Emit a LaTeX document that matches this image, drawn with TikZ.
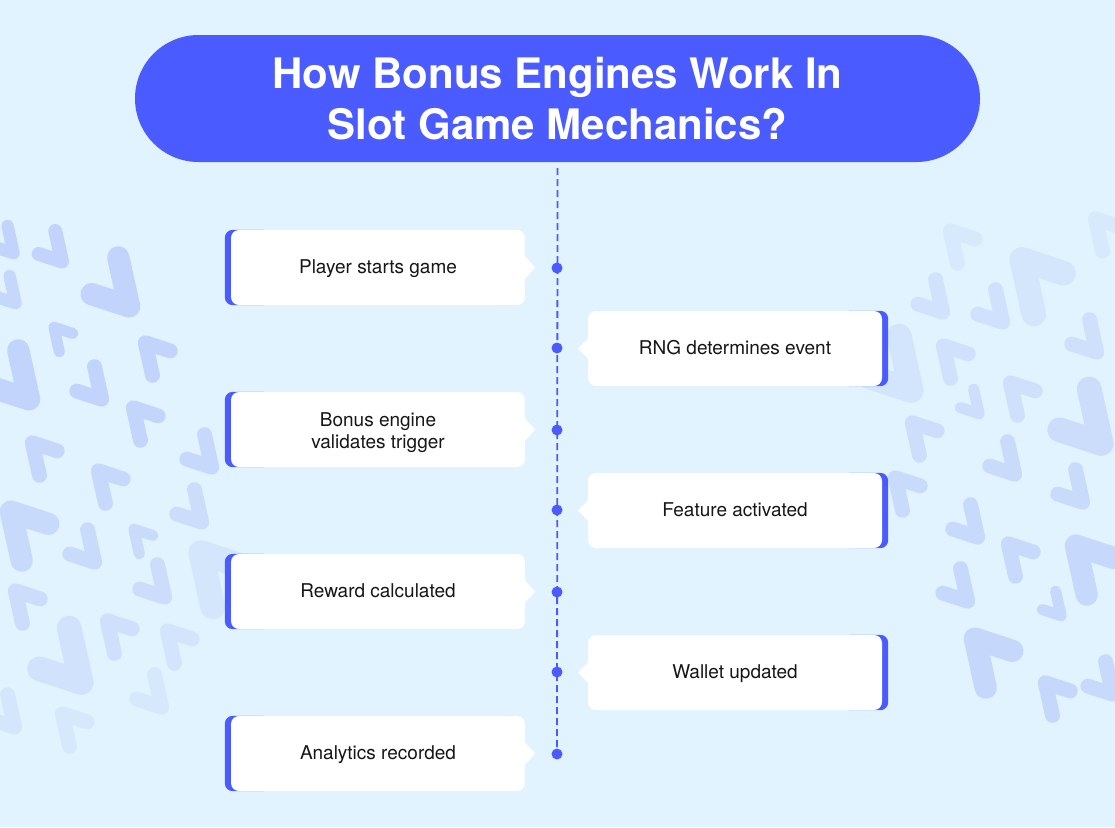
\documentclass[tikz,border=0pt]{standalone}
\usepackage{fontspec}
\setmainfont{TeX Gyre Heros}
\usetikzlibrary{shapes.misc}
\definecolor{bgc}{HTML}{E1F3FE}
\definecolor{pri}{HTML}{4A5CFF}
\definecolor{chevc}{HTML}{C2D4FB}
\definecolor{ink}{HTML}{161616}
\pgfdeclarelayer{bgzero}
\pgfdeclarelayer{bgone}
\pgfsetlayers{bgzero,bgone,main}
\newcommand{\chevr}[5]{%
  \begin{scope}[shift={(#1,#2)},rotate=#4]
    \draw[chevline,opacity=#5,line width=#3*0.31pt]
      (-0.26*#3,-0.8*#3) -- (-0.11*#3,-0.12*#3) -- (-0.63*#3,-0.29*#3);
  \end{scope}}
\newcommand{\myvstr}{\rule[-4pt]{0pt}{20pt}}
\newcommand{\myvtopstr}{\rule{0pt}{20pt}}
\begin{document}
\begin{tikzpicture}[x=1pt,y=-1pt,
  lbox/.style={fill=white, rounded corners=8pt, minimum width=294pt, minimum height=75pt,
    inner sep=0pt, align=center, font=\fontsize{19}{22}\selectfont, text=ink},
  dotn/.style={circle, fill=pri, minimum size=11pt, inner sep=0pt},
  titlebox/.style={rounded rectangle, fill=pri, minimum width=845pt, minimum height=127pt,
    inner sep=0pt, align=center, text=white, font=\fontsize{42}{51}\selectfont\bfseries},
  chevline/.style={draw=chevc, line cap=round, line join=round},
  tl/.style={draw=pri, line width=1.8pt, dash pattern=on 7pt off 4pt},
  accent/.style={fill=pri, rounded corners=8pt},
  ptr/.style={fill=white}]
\useasboundingbox (0,0) rectangle (1115,827);
\begin{pgfonlayer}{bgzero}
\fill[bgc] (0,0) rectangle (1115,827);
% left cluster
\chevr{18}{258}{40}{0}{1}
\chevr{67}{267}{45}{0}{1}
\chevr{137}{315}{72}{0}{1}
\chevr{20}{308}{40}{0}{0.9}
\chevr{50}{323}{36}{180}{1}
\chevr{140}{337}{48}{180}{1}
\chevr{37}{408}{72}{0}{1}
\chevr{107}{405}{48}{0}{1}
\chevr{128}{402}{48}{180}{0.95}
\chevr{27}{437}{48}{180}{0.9}
\chevr{93}{465}{48}{180}{0.85}
\chevr{217}{473}{48}{0}{0.85}
\chevr{3}{503}{72}{180}{0.8}
\chevr{100}{568}{48}{0}{0.75}
\chevr{10}{585}{48}{180}{0.7}
\chevr{130}{525}{36}{180}{0.75}
\chevr{170}{603}{48}{0}{0.7}
\chevr{90}{692}{80}{0}{0.5}
\chevr{102}{615}{48}{180}{0.6}
\chevr{162}{625}{48}{180}{0.45}
\chevr{207}{528}{48}{0}{0.7}
\chevr{192}{543}{80}{180}{0.4}
\chevr{57}{708}{48}{180}{0.35}
\chevr{167}{713}{48}{0}{0.35}
\chevr{20}{733}{48}{0}{0.4}
% right cluster
\chevr{945}{225}{48}{180}{0.3}
\chevr{1013}{250}{80}{180}{0.4}
\chevr{1090}{213}{48}{180}{0.3}
\chevr{948}{318}{48}{0}{0.5}
\chevr{1008}{328}{48}{0}{0.55}
\chevr{1102}{358}{48}{0}{0.6}
\chevr{938}{340}{48}{180}{0.55}
\chevr{1005}{377}{48}{180}{0.6}
\chevr{983}{418}{36}{0}{0.65}
\chevr{1110}{453}{80}{0}{0.7}
\chevr{907}{417}{48}{180}{0.65}
\chevr{920}{400}{80}{0}{0.45}
\chevr{1020}{480}{48}{0}{0.75}
\chevr{1088}{508}{48}{0}{0.75}
\chevr{890}{472}{48}{180}{0.75}
\chevr{983}{543}{48}{0}{0.8}
\chevr{1003}{538}{48}{180}{0.8}
\chevr{1068}{537}{72}{180}{0.85}
\chevr{973}{607}{48}{0}{0.85}
\chevr{1065}{620}{36}{0}{0.85}
\chevr{967}{630}{72}{180}{0.9}
\chevr{1040}{677}{48}{180}{0.9}
\chevr{1118}{700}{48}{0}{0.8}
\end{pgfonlayer}

% title
\node[titlebox] (title) at (557.5,98.5) {How Bonus Engines Work In\\Slot Game Mechanics?};

% timeline dots
\node[dotn] (d1) at (557,268) {};
\node[dotn] (d2) at (557,348) {};
\node[dotn] (d3) at (557,430) {};
\node[dotn] (d4) at (557,510) {};
\node[dotn] (d5) at (557,592) {};
\node[dotn] (d6) at (557,672) {};
\node[dotn] (d7) at (557,754) {};

% boxes
\node[lbox] (b1) at (378,267.5) {\myvstr Player starts game};
\node[lbox] (b2) at (735,348.5) {\myvstr RNG determines event};
\node[lbox] (b3) at (378,429.5) {\myvtopstr Bonus engine\\validates trigger};
\node[lbox] (b4) at (735,510.5) {\myvstr Feature activated};
\node[lbox] (b5) at (378,591.5) {\myvstr Reward calculated};
\node[lbox] (b6) at (735,672.5) {\myvstr Wallet updated};
\node[lbox] (b7) at (378,753.5) {\myvstr Analytics recorded};

\begin{pgfonlayer}{bgone}
\draw[tl] ([yshift=-6pt]title.south) -- (d7.center);
\foreach \b in {b1,b3,b5,b7}{
  \fill[accent] ([xshift=-6pt]\b.south west) rectangle ([xshift=40pt]\b.north west);}
\foreach \b in {b2,b4,b6}{
  \fill[accent] ([xshift=-40pt]\b.south east) rectangle ([xshift=6pt]\b.north east);}
\end{pgfonlayer}

% pointers
\foreach \b in {b1,b3,b5,b7}{
  \fill[ptr] ([yshift=11pt]\b.east) -- ([xshift=10pt]\b.east) -- ([yshift=-11pt]\b.east) -- cycle;}
\foreach \b in {b2,b4,b6}{
  \fill[ptr] ([yshift=10pt]\b.west) -- ([xshift=-10pt]\b.west) -- ([yshift=-10pt]\b.west) -- cycle;}
\end{tikzpicture}
\end{document}
